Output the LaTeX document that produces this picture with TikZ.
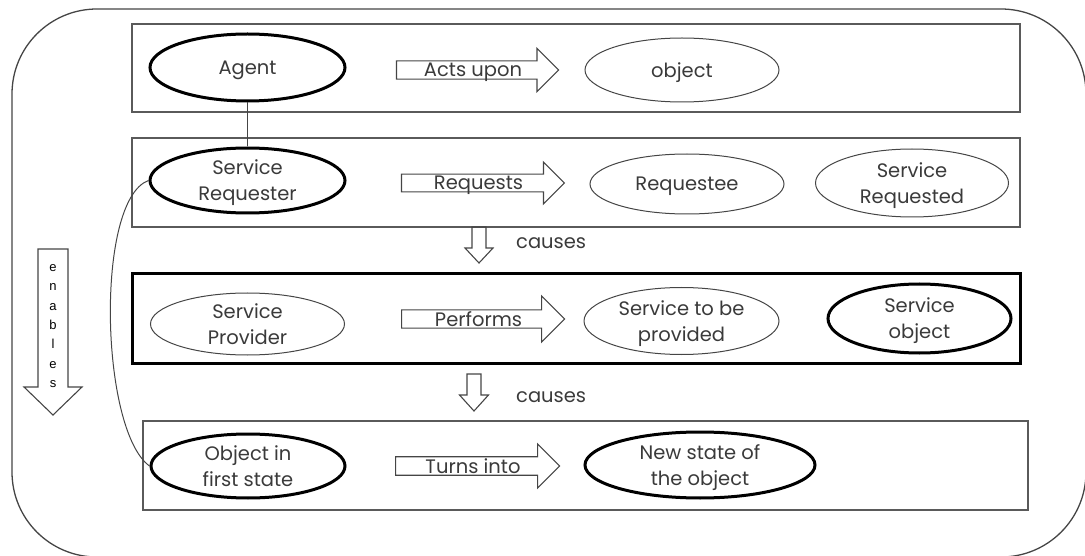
\documentclass[tikz,border=0pt]{standalone}
\usepackage{fontspec}
\setmainfont{Poppins}
\newfontfamily\letterfont{Liberation Sans}
\usetikzlibrary{shapes.geometric,shapes.arrows}

\definecolor{txt}{HTML}{3A3A3A}
\definecolor{edge}{HTML}{454545}
\definecolor{frame}{HTML}{5A5A5A}

\tikzset{
  lane/.style={draw=frame, line width=1.2pt, inner sep=0pt},
  heavylane/.style={draw=black, line width=3pt, inner sep=0pt},
  ell/.style={ellipse, draw=edge, line width=1pt, inner sep=0pt, align=center,
              text=txt, text depth=0pt, font=\fontsize{19.5}{26}\selectfont},
  heavyell/.style={ell, draw=black, line width=3pt},
  rightarrow/.style={single arrow, draw=edge, line width=1.1pt, inner sep=0pt,
              single arrow tip angle=90, text=txt, text depth=0pt,
              font=\fontsize{19.5}{22}\selectfont},
  blockarrow/.style={draw=edge, line width=1.1pt, line join=miter},
  lbl/.style={text=txt, font=\fontsize{19.5}{22}\selectfont, inner sep=0pt},
  link/.style={draw=edge, line width=1pt}
}

% hollow arrow pointing down: centre x, top, body half width, head start, head half width, tip
\newcommand\downblock[6]{%
  \draw[blockarrow] (#1-#3,#2) -- (#1+#3,#2) -- (#1+#3,#4) -- (#1+#5,#4)
    -- (#1,#6) -- (#1-#5,#4) -- (#1-#3,#4) -- cycle;}

\begin{document}
\begin{tikzpicture}[x=1pt, y=-1pt]
\useasboundingbox (0,0) rectangle (1085,556);

% outer rounded frame
\draw[draw=edge, line width=1.3pt, rounded corners=85pt] (12,9) rectangle (1086,557);

% lanes
\node[lane, minimum width=888pt, minimum height=88pt] (lane1) at (576,68) {};
\node[lane, minimum width=888pt, minimum height=89pt] (lane2) at (576,182.5) {};
\node[heavylane, minimum width=888pt, minimum height=89pt] (lane3) at (576,318.5) {};
\node[lane, minimum width=885pt, minimum height=89pt] (lane4) at (585.5,465.5) {};

% lane 1
\node[heavyell, minimum width=195pt, minimum height=67pt] (agent) at (247.5,67.5) {Agent};
\node[rightarrow, minimum height=162pt, minimum width=43pt, single arrow head extend=10pt] (acts) at (473,70) {Acts upon};
\node[ell, minimum width=194pt, minimum height=64pt] (object) at (682,70) {object};

% lane 2
\node[heavyell, minimum width=195pt, minimum height=65pt] (requester) at (247.5,180.5) {Service\\Requester};
\node[rightarrow, minimum height=163pt, minimum width=42pt, single arrow head extend=10pt] (requests) at (478.5,183) {Requests};
\node[ell, minimum width=194pt, minimum height=60pt] (requestee) at (687,184) {Requestee};
\node[ell, minimum width=193pt, minimum height=68pt] (requested) at (912,183) {Service\\Requested};

% lane 3
\node[ell, minimum width=194pt, minimum height=62pt] (provider) at (247.5,324) {Service\\Provider};
\node[rightarrow, minimum height=163pt, minimum width=46pt, single arrow head extend=12pt] (performs) at (478.5,319) {Performs};
\node[ell, minimum width=195pt, minimum height=67pt] (toprovide) at (681.5,321) {Service to be\\provided};
\node[heavyell, minimum width=183pt, minimum height=69pt] (sobject) at (919.5,318.5) {Service\\object};

% lane 4
\node[heavyell, minimum width=194pt, minimum height=64pt] (first) at (248,466) {Object in\\first state};
\node[rightarrow, minimum height=164pt, minimum width=44pt, single arrow head extend=11pt] (turns) at (473,466) {Turns into};
\node[heavyell, minimum width=230pt, minimum height=66pt] (newstate) at (700,465) {New state of\\the object};

% causal arrows between lanes
\downblock{479}{227}{7}{248}{14}{263}
\node[lbl, anchor=west] (cause1txt) at (516,243) {causes};
\downblock{474}{374}{7}{395}{14.5}{411}
\node[lbl, anchor=west] (cause2txt) at (516,397) {causes};

% enabling arrow on the left
\downblock{53}{249}{15}{387}{29}{415}
\node[inner sep=0pt, align=center, text=black, font=\letterfont\fontsize{13}{19.3}\selectfont] (enablestxt) at (53,326)
  {e\\n\\a\\b\\l\\e\\s};

% connectors
\draw[link] (agent.south) -- (requester.north);
\draw[link] (requester.west) .. controls (95,200) and (100,430) .. (first.west);
\end{tikzpicture}
\end{document}
